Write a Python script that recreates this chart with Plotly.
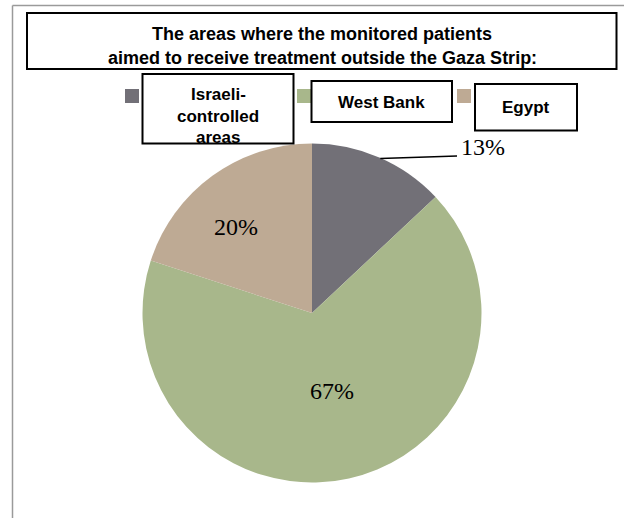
import math
import plotly.graph_objects as go

# Destinations requested for treatment outside Gaza (share of monitored patients, %)
categories = ["Israeli-controlled areas", "West Bank", "Egypt"]
legend_lines = [["Israeli-", "controlled", "areas"], ["West Bank"], ["Egypt"]]
shares = [13, 67, 20]
colors = ["#727077", "#A8B78B", "#BEAA94"]

title_lines = [
    "The areas where the monitored patients",
    "aimed to receive treatment outside the Gaza Strip:",
]

W, H = 624, 518
CX, CY, R = 312, 313, 169.5


def px(x):
    return x / W


def py(y):
    return 1 - y / H


SANS = "Liberation Sans, Arial, sans-serif"
SERIF = "Liberation Serif, Times New Roman, serif"

fig = go.Figure()
fig.add_trace(go.Pie(
    labels=categories,
    values=shares,
    sort=False,
    direction="clockwise",
    rotation=0,
    marker=dict(colors=colors, line=dict(width=0)),
    textinfo="none",
    hoverinfo="label+percent",
    showlegend=False,
    domain=dict(x=[px(CX - R), px(CX + R)], y=[py(CY + R), py(CY - R)]),
))

shapes = []
annotations = []

# outer frame (left and top edges only)
shapes.append(dict(type="line", xref="paper", yref="paper",
                   x0=px(12.5), y0=py(5.5), x1=px(12.5), y1=py(H + 5),
                   line=dict(color="#9A9A9A", width=1.5)))
shapes.append(dict(type="line", xref="paper", yref="paper",
                   x0=px(12.5), y0=py(5.5), x1=px(W + 5), y1=py(5.5),
                   line=dict(color="#9A9A9A", width=1.5)))

# title box
shapes.append(dict(type="rect", xref="paper", yref="paper",
                   x0=px(27), y0=py(13), x1=px(616.5), y1=py(69),
                   line=dict(color="black", width=2), fillcolor="white"))
for line, yc in zip(title_lines, [34, 57.5]):
    annotations.append(dict(text=f"<b>{line}</b>", xref="paper", yref="paper",
                            x=px(322), y=py(yc), xanchor="center", yanchor="middle",
                            showarrow=False, font=dict(family=SANS, size=18, color="black")))

# legend: colour swatch + boxed label
legend_boxes = [(142.5, 74, 293.5, 143.5), (311.5, 81, 452, 122), (475, 84, 577, 130.5)]
legend_swatches = [125, 297, 457]
legend_text_y = [[95, 116, 137.5], [102], [107]]
for i, cat in enumerate(categories):
    sx = legend_swatches[i]
    shapes.append(dict(type="rect", xref="paper", yref="paper",
                       x0=px(sx), y0=py(89), x1=px(sx + 14), y1=py(103),
                       line=dict(width=0), fillcolor=colors[i]))
    bx0, by0, bx1, by1 = legend_boxes[i]
    shapes.append(dict(type="rect", xref="paper", yref="paper",
                       x0=px(bx0), y0=py(by0), x1=px(bx1), y1=py(by1),
                       line=dict(color="black", width=2), fillcolor="white"))
    for line, yc in zip(legend_lines[i], legend_text_y[i]):
        annotations.append(dict(text=f"<b>{line}</b>", xref="paper", yref="paper",
                                x=px((bx0 + bx1) / 2), y=py(yc),
                                xanchor="center", yanchor="middle", showarrow=False,
                                font=dict(family=SANS, size=17, color="black")))

# percentage labels positioned from each slice's angular midpoint
total = sum(shares)
cum = 0
label_style = {
    0: None,            # outside, with leader line
    1: (-1.8, 0.475),   # (angle shift in degrees, radius fraction)
    2: (-5.5, 0.68),
}
for i, v in enumerate(shares):
    mid = (cum + v / 2) / total
    cum += v
    ang = 2 * math.pi * mid
    text = f"{round(100 * v / total)}%"
    if label_style[i] is None:
        ex = CX + R * math.sin(ang)
        ey = CY - R * math.cos(ang)
        shapes.append(dict(type="line", xref="paper", yref="paper",
                           x0=px(ex + 1), y0=py(ey + 1), x1=px(457), y1=py(156),
                           line=dict(color="black", width=1.5)))
        annotations.append(dict(text=text, xref="paper", yref="paper",
                                x=px(459), y=py(147), xanchor="left", yanchor="middle",
                                showarrow=False,
                                font=dict(family=SERIF, size=24, color="black")))
    else:
        shift, rf = label_style[i]
        a = ang + math.radians(shift)
        lx = CX + rf * R * math.sin(a)
        ly = CY - rf * R * math.cos(a)
        annotations.append(dict(text=text, xref="paper", yref="paper",
                                x=px(lx), y=py(ly), xanchor="center", yanchor="middle",
                                showarrow=False,
                                font=dict(family=SERIF, size=24, color="black")))

fig.update_layout(
    width=W, height=H, autosize=False,
    margin=dict(l=0, r=0, t=0, b=0),
    paper_bgcolor="white", plot_bgcolor="white",
    shapes=shapes, annotations=annotations,
)

fig.write_html("out.html")
